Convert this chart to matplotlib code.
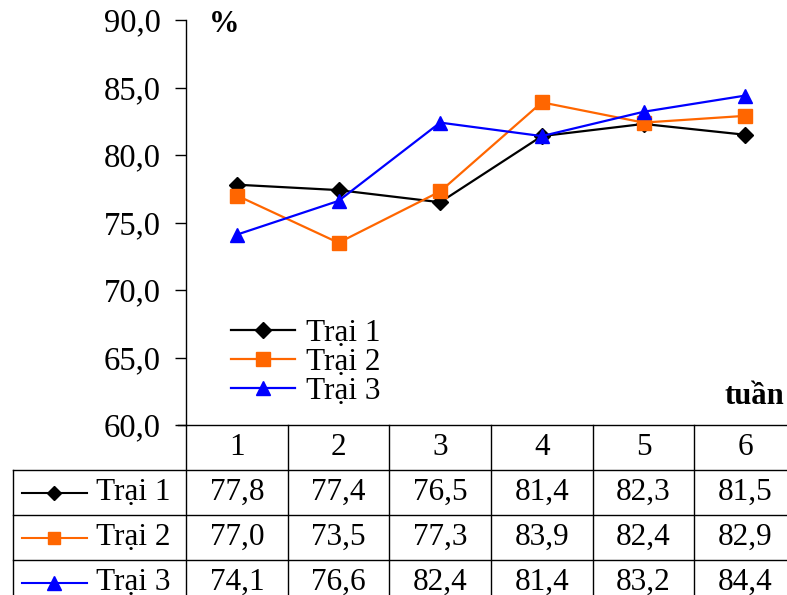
import matplotlib
matplotlib.use("Agg")
import matplotlib.pyplot as plt
import matplotlib.transforms as mtransforms
from matplotlib.lines import Line2D

plt.rcParams['font.family'] = ['Liberation Serif', 'DejaVu Serif']

weeks = [1, 2, 3, 4, 5, 6]
week_labels = ["1", "2", "3", "4", "5", "6"]
series_names = ["Trại 1", "Trại 2", "Trại 3"]
trai1 = [77.8, 77.4, 76.5, 81.4, 82.3, 81.5]
trai2 = [77.0, 73.5, 77.3, 83.9, 82.4, 82.9]
trai3 = [74.1, 76.6, 82.4, 81.4, 83.2, 84.4]
yticks = [60, 65, 70, 75, 80, 85, 90]
ytick_labels = ["60,0", "65,0", "70,0", "75,0", "80,0", "85,0", "90,0"]

colors = ["#000000", "#FF6600", "#0000FF"]
markers = ["D", "s", "^"]
msizes = [8, 9.5, 10.5]

W, H = 787, 595
fig = plt.figure(figsize=(W / 100, H / 100), dpi=100)
ax_left, ax_right, ax_top, ax_bot = 186, 796, 20, 425
ax = fig.add_axes([ax_left / W, (H - ax_bot) / H, (ax_right - ax_left) / W, (ax_bot - ax_top) / H])
ax.set_xlim(0.5, 6.5)
ax.set_ylim(60, 90)

data = [trai1, trai2, trai3]
handles = []
for vals, c, m, ms, name in zip(data, colors, markers, msizes, series_names):
    h, = ax.plot(weeks, vals, color=c, marker=m, markersize=ms, linewidth=1.6,
                 markerfacecolor=c, markeredgecolor=c, label=name, clip_on=False)
    handles.append(h)

for s in ["top", "right", "bottom"]:
    ax.spines[s].set_visible(False)
ax.spines["left"].set_linewidth(1.0)
ax.set_xticks([])
ax.set_yticks(yticks)
ax.set_yticklabels(ytick_labels, fontsize=23.5)
ax.tick_params(axis="y", direction="out", length=8, width=1.0, pad=10)

leg = ax.legend(handles=handles, loc="upper left", bbox_to_anchor=(0.053, 0.293),
                frameon=False, fontsize=22.5, handlelength=2.05, handletextpad=0.35,
                labelspacing=0.0, borderaxespad=0)

ax.text(0.037, 0.99, "%", transform=ax.transAxes, fontsize=22, fontweight="bold",
        ha="left", va="center")
ax.text(0.883, 0.07, "tuần", transform=ax.transAxes, fontsize=22, fontweight="bold",
        ha="left", va="center")

# ---- data table ----
trans = mtransforms.blended_transform_factory(ax.transData, ax.transAxes)
ah = ax_bot - ax_top
row_h = 45 / ah
px_per_unit = (ax_right - ax_left) / 6
left_edge = 0.5 - (ax_left - 13) / px_per_unit
lw = 1.0
ax.add_line(Line2D([0.5 - 8 / px_per_unit, 7.0], [0, 0], transform=trans, color="black", lw=lw, clip_on=False))
for r in range(1, 4):
    ax.add_line(Line2D([left_edge, 7.0], [-r * row_h] * 2, transform=trans, color="black", lw=lw, clip_on=False))
for xb in [0.5 + i for i in range(7)]:
    ax.add_line(Line2D([xb, xb], [0, -4.5 * row_h], transform=trans, color="black", lw=lw, clip_on=False))
ax.add_line(Line2D([left_edge, left_edge], [-row_h, -4.5 * row_h], transform=trans, color="black", lw=lw, clip_on=False))

fs_tab = 22.5
for x, lab in zip(weeks, week_labels):
    ax.text(x, -0.5 * row_h, lab, transform=trans, ha="center", va="center", fontsize=fs_tab)
for r, (vals, c, m, ms, name) in enumerate(zip(data, colors, markers, msizes, series_names)):
    yc = -(r + 1.5) * row_h
    for x, v in zip(weeks, vals):
        ax.text(x, yc, f"{v:.1f}".replace(".", ","), transform=trans, ha="center", va="center", fontsize=fs_tab)
    x0 = 0.5 - (ax_left - 22) / px_per_unit
    x1 = 0.5 - (ax_left - 87) / px_per_unit
    ax.add_line(Line2D([x0, x1], [yc, yc], transform=trans, color=c, lw=1.5, clip_on=False))
    ax.add_line(Line2D([(x0 + x1) / 2], [yc], transform=trans, color=c, marker=m, markersize=ms * 0.95,
                       markerfacecolor=c, markeredgecolor=c, linestyle="none", clip_on=False))
    ax.text(0.5 - (ax_left - 96) / px_per_unit, yc, name, transform=trans, ha="left", va="center", fontsize=fs_tab)

fig.savefig("out.png", dpi=100)
